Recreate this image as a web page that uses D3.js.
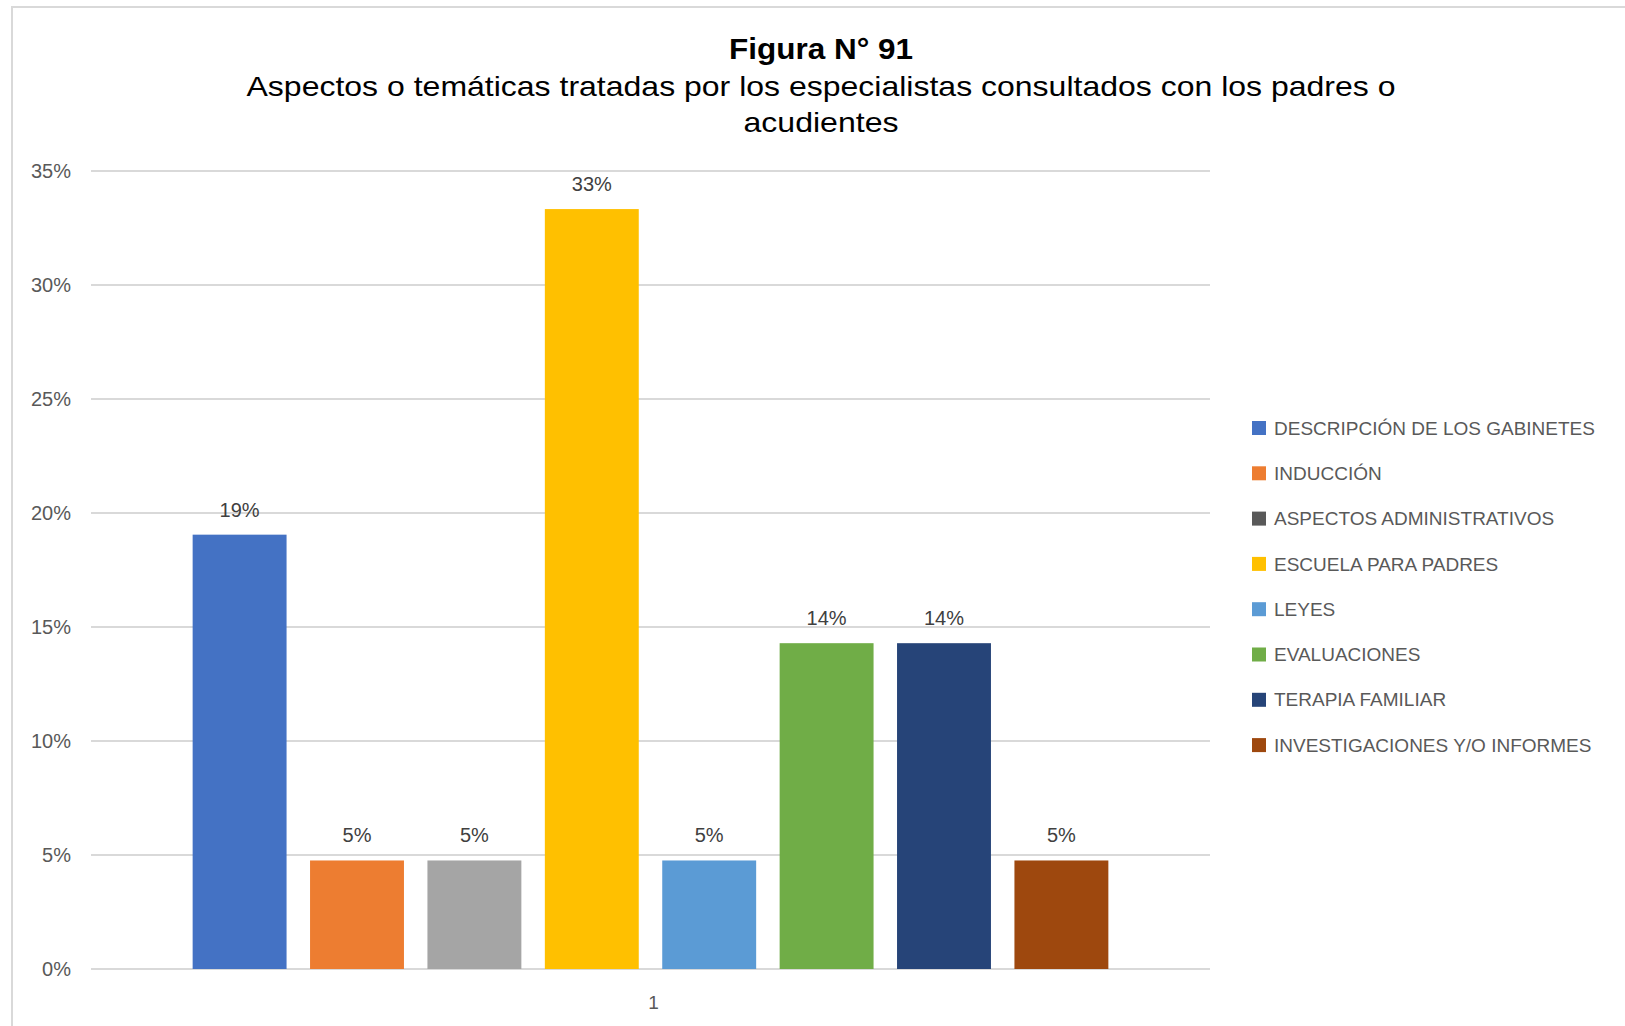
<!DOCTYPE html>
<html><head><meta charset="utf-8">
<script src="https://cdn.jsdelivr.net/npm/d3@7"></script>
<style>html,body{margin:0;padding:0;background:#fff;}svg{display:block;}</style>
</head><body>
<svg id="chart" width="1625" height="1026"></svg>
<script>
const categories = ["1"];
const seriesNames = ["DESCRIPCIÓN DE LOS GABINETES","INDUCCIÓN","ASPECTOS ADMINISTRATIVOS","ESCUELA PARA PADRES","LEYES","EVALUACIONES","TERAPIA FAMILIAR","INVESTIGACIONES Y/O INFORMES"];
const seriesValues = [0.1905, 0.0476, 0.0476, 0.3333, 0.0476, 0.1429, 0.1429, 0.0476];
const barColors = ["#4472C4","#ED7D31","#A5A5A5","#FFC000","#5B9BD5","#70AD47","#264478","#9E480E"];
const legendColors = ["#4472C4","#ED7D31","#595959","#FFC000","#5B9BD5","#70AD47","#264478","#9E480E"];
const yTicks = [0,0.05,0.10,0.15,0.20,0.25,0.30,0.35];
const titleText = "Figura N° 91";
const subtitleLines = ["Aspectos o temáticas tratadas por los especialistas consultados con los padres o","acudientes"];

const svg = d3.select("#chart");
const font = "'Liberation Sans', Arial, sans-serif";
const plot = {left:91, right:1210, top:171, bottom:969};

// frame
svg.append("rect").attr("x",12).attr("y",7).attr("width",1640).attr("height",1040)
  .attr("fill","#fff").attr("stroke","#d9d9d9").attr("stroke-width",2);

// titles
svg.append("text").attr("x",821).attr("y",59).attr("text-anchor","middle")
  .attr("font-family",font).attr("font-weight","bold").attr("font-size",29).attr("fill","#000")
  .attr("textLength",184).attr("lengthAdjust","spacingAndGlyphs").text(titleText);
const subLens = [1149, 155];
subtitleLines.forEach((t,i)=>{
  svg.append("text").attr("x",821).attr("y",96+i*36).attr("text-anchor","middle")
    .attr("font-family",font).attr("font-size",28).attr("fill","#000")
    .attr("textLength",subLens[i]).attr("lengthAdjust","spacingAndGlyphs").text(t);
});

const y = d3.scaleLinear().domain([0,0.35]).range([plot.bottom, plot.top]);
const x0 = d3.scaleBand().domain(categories).range([plot.left, plot.right]).paddingInner(0).paddingOuter(0.111);
const x1 = d3.scaleBand().domain(seriesNames).range([0, x0.bandwidth()]).paddingInner(0.2).paddingOuter(0);

// gridlines
svg.append("g").selectAll("line").data(yTicks).join("line")
  .attr("x1",plot.left).attr("x2",plot.right)
  .attr("y1",d=>y(d)).attr("y2",d=>y(d))
  .attr("stroke","#d9d9d9").attr("stroke-width",2);

// y axis labels
const yAxis = d3.axisLeft(y).tickValues(yTicks).tickFormat(d3.format(".0%")).tickSize(0).tickPadding(0);
const yg = svg.append("g").attr("transform",`translate(71,0)`).call(yAxis);
yg.select(".domain").remove();
yg.selectAll("text").attr("font-family",font).attr("font-size",20).attr("fill","#595959");

// bars
const g = svg.append("g").attr("transform",`translate(${x0(categories[0])},0)`);
g.selectAll("rect").data(seriesValues).join("rect")
  .attr("x",(d,i)=>x1(seriesNames[i]))
  .attr("width",x1.bandwidth())
  .attr("y",d=>y(d))
  .attr("height",d=>y(0)-y(d))
  .attr("fill",(d,i)=>barColors[i]);

// data labels
g.selectAll("text.lbl").data(seriesValues).join("text").attr("class","lbl")
  .attr("x",(d,i)=>x1(seriesNames[i])+x1.bandwidth()/2)
  .attr("y",d=>y(d)-18)
  .attr("text-anchor","middle")
  .attr("font-family",font).attr("font-size",20).attr("fill","#404040")
  .text(d=>d3.format(".0%")(d));

// x axis label
const xAxis = d3.axisBottom(x0).tickSize(0).tickPadding(0);
const xg = svg.append("g").attr("transform",`translate(3,${plot.bottom+26})`).call(xAxis);
xg.select(".domain").remove();
xg.selectAll("text").attr("font-family",font).attr("font-size",19).attr("fill","#595959").attr("dy","0.71em");

// legend
const leg = svg.append("g").attr("transform","translate(1252,428)");
seriesNames.forEach((n,i)=>{
  const row = leg.append("g").attr("transform",`translate(0,${i*45.3})`);
  row.append("rect").attr("x",0).attr("y",-7).attr("width",14).attr("height",14).attr("fill",legendColors[i]);
  row.append("text").attr("x",22).attr("y",0).attr("dy","0.35em")
    .attr("font-family",font).attr("font-size",19).attr("fill","#595959").text(n);
});
</script>
</body></html>
